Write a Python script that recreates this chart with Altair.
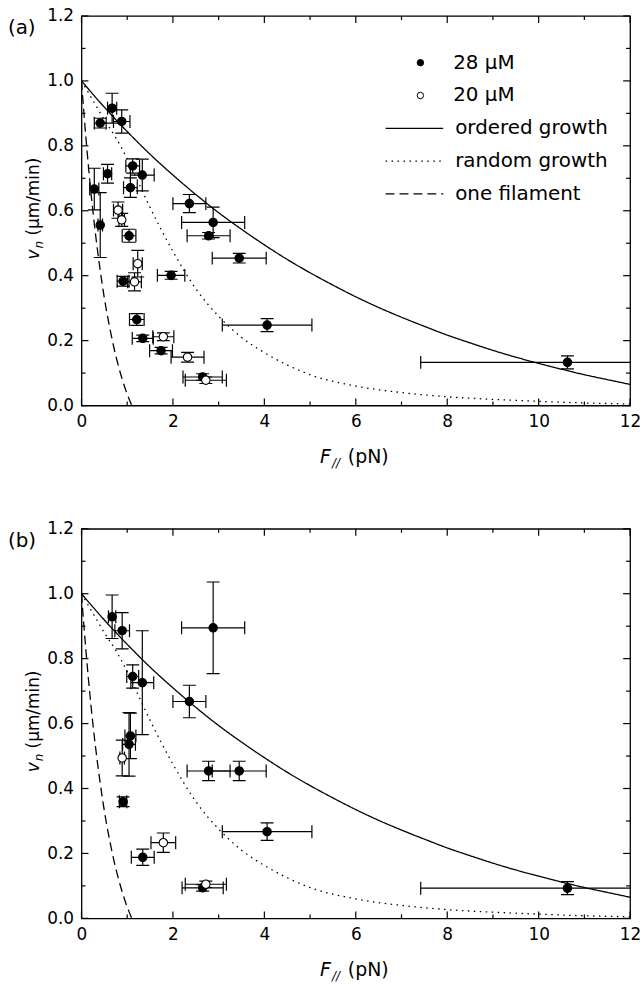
import altair as alt
import pandas as pd

FONT = "DejaVu Sans"
W, H = 552, 392

# ---------------- axis ticks ----------------
x_major = [0, 2, 4, 6, 8, 10, 12]
x_minor = [1, 3, 5, 7, 9, 11]
y_major = [0.0, 0.2, 0.4, 0.6, 0.8, 1.0, 1.2]
y_minor = [0.1, 0.3, 0.5, 0.7, 0.9, 1.1]

conc_labels = ["28 μM", "20 μM"]
model_labels = ["ordered growth", "random growth", "one filament"]

# ---------------- model curves ----------------
ordered_F = [0, 0.5, 1, 1.5, 2, 2.5, 3, 3.5, 4, 4.5, 5, 5.5, 6, 6.5, 7, 7.5, 8,
             8.5, 9, 9.5, 10, 10.5, 11, 11.5, 12]
ordered_v = [1.0, 0.919, 0.844, 0.774, 0.710, 0.650, 0.594, 0.543, 0.495, 0.450,
             0.409, 0.371, 0.335, 0.302, 0.272, 0.244, 0.217, 0.193, 0.170, 0.149,
             0.130, 0.112, 0.095, 0.080, 0.065]
random_F = [0, 0.25, 0.5, 0.75, 1.0, 1.25, 1.5, 1.75, 2.0, 2.5, 3.0, 3.5, 4.0, 4.5,
            5.0, 6.0, 7.0, 8.0, 9.0, 10.0, 11.0, 12.0]
random_v = [1.0, 0.94, 0.88, 0.825, 0.76, 0.685, 0.61, 0.54, 0.475, 0.36, 0.275,
            0.21, 0.163, 0.125, 0.095, 0.060, 0.040, 0.027, 0.019, 0.013, 0.008, 0.005]
one_F = [0, 0.05, 0.1, 0.2, 0.3, 0.4, 0.5, 0.6, 0.7, 0.8, 0.9, 1.0, 1.1]
one_v = [1.0, 0.906, 0.820, 0.666, 0.536, 0.426, 0.331, 0.252, 0.184, 0.126,
         0.077, 0.035, 0.0]

# ---------------- panel (a) data ----------------
a28_F = [0.41, 0.67, 0.88, 0.28, 0.57, 0.41, 1.12, 1.33, 1.07, 1.04, 0.91, 1.96,
         2.36, 2.88, 2.78, 3.45, 4.06, 1.21, 1.34, 1.74, 2.65, 10.63]
a28_v = [0.870, 0.916, 0.875, 0.667, 0.714, 0.556, 0.738, 0.710, 0.671, 0.523,
         0.383, 0.401, 0.622, 0.564, 0.523, 0.454, 0.248, 0.265, 0.207, 0.169,
         0.088, 0.133]
a28_dF = [0.13, 0.10, 0.18, 0.10, 0.09, 0.05, 0.15, 0.26, 0.15, 0.15, 0.13, 0.30,
          0.36, 0.69, 0.47, 0.59, 0.98, 0.16, 0.23, 0.25, 0.43, 3.21]
a28_dv = [0.015, 0.046, 0.036, 0.064, 0.029, 0.100, 0.022, 0.049, 0.030, 0.020,
          0.015, 0.012, 0.028, 0.047, 0.010, 0.015, 0.020, 0.018, 0.010, 0.010,
          0.010, 0.020]
a20_F = [0.80, 0.88, 1.23, 1.16, 1.79, 2.32, 2.72]
a20_v = [0.602, 0.572, 0.437, 0.381, 0.212, 0.149, 0.078]
a20_dF = [0.10, 0.06, 0.10, 0.15, 0.23, 0.36, 0.45]
a20_dv = [0.025, 0.020, 0.041, 0.028, 0.012, 0.015, 0.010]

# ---------------- panel (b) data ----------------
b28_F = [0.67, 0.89, 1.12, 1.33, 2.36, 2.88, 1.07, 1.04, 0.91, 2.78, 3.45, 4.06,
         1.34, 2.65, 10.63]
b28_v = [0.929, 0.886, 0.745, 0.726, 0.668, 0.895, 0.562, 0.536, 0.359, 0.454,
         0.454, 0.267, 0.188, 0.094, 0.093]
b28_dF = [0.08, 0.16, 0.13, 0.25, 0.36, 0.69, 0.12, 0.14, 0.08, 0.47, 0.59, 0.98,
          0.25, 0.45, 3.21]
b28_dv = [0.067, 0.056, 0.036, 0.160, 0.050, 0.141, 0.070, 0.098, 0.015, 0.030,
          0.030, 0.027, 0.025, 0.010, 0.020]
b20_F = [0.89, 1.79, 2.72]
b20_v = [0.494, 0.233, 0.105]
b20_dF = [0.05, 0.27, 0.45]
b20_dv = [0.055, 0.030, 0.010]

curves = pd.concat([
    pd.DataFrame({"model": model_labels[0], "F": ordered_F, "v": ordered_v}),
    pd.DataFrame({"model": model_labels[1], "F": random_F, "v": random_v}),
    pd.DataFrame({"model": model_labels[2], "F": one_F, "v": one_v}),
], ignore_index=True)

xs = alt.Scale(domain=[0, 12], nice=False, zero=False)
ys = alt.Scale(domain=[0, 1.2], nice=False, zero=False)

XA = alt.Axis(values=x_major, format="d", ticks=False, tickSize=0, domain=False,
              grid=False, labelFont=FONT, labelFontSize=17, labelColor="black",
              labelPadding=8, title=None, labelFlush=False, labelOverlap=False)
YA = alt.Axis(values=y_major, format=".1f", ticks=False, tickSize=0, domain=False,
              grid=False, labelFont=FONT, labelFontSize=17, labelColor="black",
              labelPadding=8, title=None, labelFlush=False, labelOverlap=False)


def X(field):
    return alt.X(field, scale=xs, axis=XA)


def Y(field):
    return alt.Y(field, scale=ys, axis=YA)


def points_frame(f28, v28, df28, dv28, f20, v20, df20, dv20):
    d1 = pd.DataFrame({"F": f28, "v": v28, "dF": df28, "dv": dv28, "conc": conc_labels[0]})
    d2 = pd.DataFrame({"F": f20, "v": v20, "dF": df20, "dv": dv20, "conc": conc_labels[1]})
    d = pd.concat([d1, d2], ignore_index=True)
    d["xlo"] = d["F"] - d["dF"]
    d["xhi"] = d["F"] + d["dF"]
    d["ylo"] = d["v"] - d["dv"]
    d["yhi"] = d["v"] + d["dv"]
    return d


def text_layer(s, x, y, size, italic=False, angle=0, baseline="alphabetic"):
    return alt.Chart(pd.DataFrame({"s": [s]})).mark_text(
        align="left", baseline=baseline, font=FONT, fontSize=size,
        fontStyle="italic" if italic else "normal", angle=angle, color="black"
    ).encode(text="s:N", x=alt.value(x), y=alt.value(y))


def panel(tag, pts):
    base = alt.Chart(pts)

    curve_layer = alt.Chart(curves).mark_line(
        color="black", strokeWidth=1.3, clip=True, interpolate="monotone"
    ).encode(
        x=X("F:Q"),
        y=Y("v:Q"),
        strokeDash=alt.StrokeDash(
            "model:N",
            scale=alt.Scale(domain=model_labels, range=[[1, 0], [1.5, 4.5], [9, 5]]),
            legend=alt.Legend(orient="none", legendX=305, legendY=101, title=None,
                              labelFont=FONT, labelFontSize=20, labelColor="black",
                              labelOffset=11, clipHeight=24, rowPadding=9,
                              symbolSize=3364, symbolType="stroke",
                              symbolStrokeWidth=1.3, symbolStrokeColor="black",
                              padding=0),
        ),
    )

    xbar = base.mark_rule(color="black", strokeWidth=1.2, clip=True).encode(
        x=X("xlo:Q"), x2="xhi:Q", y=Y("v:Q"))
    ybar = base.mark_rule(color="black", strokeWidth=1.2, clip=True).encode(
        x=X("F:Q"), y=Y("ylo:Q"), y2="yhi:Q")
    cap_style = dict(color="black", size=13, thickness=1.2, clip=True, opacity=1)
    xcap_lo = base.mark_tick(orient="vertical", **cap_style).encode(x=X("xlo:Q"), y=Y("v:Q"))
    xcap_hi = base.mark_tick(orient="vertical", **cap_style).encode(x=X("xhi:Q"), y=Y("v:Q"))
    ycap_lo = base.mark_tick(orient="horizontal", **cap_style).encode(x=X("F:Q"), y=Y("ylo:Q"))
    ycap_hi = base.mark_tick(orient="horizontal", **cap_style).encode(x=X("F:Q"), y=Y("yhi:Q"))

    dots = base.mark_point(shape="circle", filled=True, size=72, stroke="black",
                           strokeWidth=1.1, opacity=1, clip=True).encode(
        x=X("F:Q"),
        y=Y("v:Q"),
        fill=alt.Fill("conc:N",
                      scale=alt.Scale(domain=conc_labels, range=["black", "white"]),
                      legend=alt.Legend(orient="none", legendX=331, legendY=35,
                                        title=None, labelFont=FONT, labelFontSize=20,
                                        labelColor="black", labelOffset=23,
                                        clipHeight=24, rowPadding=9, symbolSize=42,
                                        symbolType="circle", symbolStrokeWidth=1.0,
                                        symbolStrokeColor="black", padding=0)),
    )

    def xt(vals, y0, y1):
        return alt.Chart(pd.DataFrame({"t": vals})).mark_rule(
            color="black", strokeWidth=1.2).encode(
            x=X("t:Q"), y=alt.value(y0), y2=alt.value(y1))

    def yt(vals, x0, x1):
        return alt.Chart(pd.DataFrame({"t": vals})).mark_rule(
            color="black", strokeWidth=1.2).encode(
            y=Y("t:Q"), x=alt.value(x0), x2=alt.value(x1))

    ticks = [
        xt(x_major, H, H - 7), xt(x_minor, H, H - 4),
        xt(x_major, 0, 7), xt(x_minor, 0, 4),
        yt(y_major, 0, 7), yt(y_minor, 0, 4),
        yt(y_major, W, W - 7), yt(y_minor, W, W - 4),
    ]

    texts = [
        text_layer(tag, -74, 12, 20, baseline="middle"),
        # x title: F// (pN)
        text_layer("F", 240, H + 58, 19, italic=True),
        text_layer("//", 252, H + 62, 12, italic=True),
        text_layer("(pN)", 268, H + 58, 19),
        # y title: v_n (μm/min)
        text_layer("v", -48, 245, 17, italic=True, angle=270, baseline="middle"),
        text_layer("n", -43, 234, 12, italic=True, angle=270, baseline="middle"),
        text_layer("(μm/min)", -48, 221, 17, angle=270, baseline="middle"),
    ]

    return alt.layer(curve_layer, xbar, ybar, xcap_lo, xcap_hi, ycap_lo, ycap_hi,
                     dots, *ticks, *texts).properties(width=W, height=H)


pa = panel("(a)", points_frame(a28_F, a28_v, a28_dF, a28_dv, a20_F, a20_v, a20_dF, a20_dv))
pb = panel("(b)", points_frame(b28_F, b28_v, b28_dF, b28_dv, b20_F, b20_v, b20_dF, b20_dv))

chart = alt.vconcat(pa, pb, spacing=49).properties(
    padding={"left": 7, "top": 3, "right": 2, "bottom": 2},
    background="white",
).configure_view(stroke="black", strokeWidth=1.3)

chart.save("out.html", embed_options={"renderer": "svg", "actions": False})
